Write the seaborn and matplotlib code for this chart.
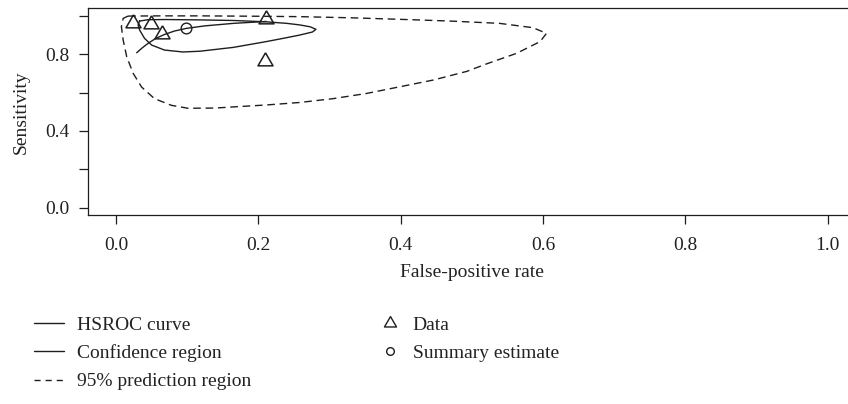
import matplotlib
matplotlib.use("Agg")
import matplotlib.pyplot as plt
import seaborn as sns
from matplotlib.lines import Line2D

# ---- data ----
study_fpr = [0.024, 0.049, 0.065, 0.211, 0.210]
study_sens = [0.962, 0.955, 0.905, 0.981, 0.762]

summary_fpr = [0.099]
summary_sens = [0.934]

hsroc_fpr = [0.029, 0.037, 0.045, 0.056, 0.068, 0.082, 0.099, 0.125, 0.165, 0.211]
hsroc_sens = [0.807, 0.833, 0.856, 0.882, 0.902, 0.920, 0.934, 0.947, 0.960, 0.970]

conf_fpr = [0.033, 0.045, 0.070, 0.118, 0.165, 0.211, 0.240, 0.258, 0.273, 0.281,
            0.276, 0.258, 0.235, 0.211, 0.165, 0.118, 0.094, 0.068, 0.050, 0.040,
            0.033, 0.031, 0.033]
conf_sens = [0.972, 0.979, 0.980, 0.978, 0.975, 0.968, 0.960, 0.952, 0.942, 0.929,
             0.915, 0.899, 0.882, 0.865, 0.835, 0.815, 0.811, 0.821, 0.847, 0.882,
             0.926, 0.952, 0.972]

pred_fpr = [0.017, 0.060, 0.120, 0.200, 0.258, 0.330, 0.399, 0.470, 0.539, 0.586,
            0.605, 0.596, 0.563, 0.520, 0.493, 0.446, 0.399, 0.352, 0.305, 0.258,
            0.211, 0.165, 0.139, 0.101, 0.078, 0.054, 0.036, 0.024, 0.015, 0.010,
            0.0075, 0.010, 0.017]
pred_sens = [0.998, 0.999, 0.999, 0.997, 0.995, 0.989, 0.981, 0.972, 0.960, 0.9375,
             0.908, 0.865, 0.804, 0.748, 0.710, 0.665, 0.630, 0.595, 0.568, 0.548,
             0.535, 0.525, 0.519, 0.518, 0.533, 0.568, 0.628, 0.700, 0.786, 0.873,
             0.943, 0.986, 0.998]

x_ticks = [0.0, 0.2, 0.4, 0.6, 0.8, 1.0]
x_ticklabels = ["0.0", "0.2", "0.4", "0.6", "0.8", "1.0"]
y_ticks = [0.0, 0.2, 0.4, 0.6, 0.8, 1.0]
y_ticklabels = ["0.0", "", "0.4", "", "0.8", ""]

legend_lines = ["HSROC curve", "Confidence region", "95% prediction region"]
legend_marks = ["Data", "Summary estimate"]

# ---- style ----
sns.set_theme(style="ticks")
plt.rcParams['font.family'] = ['Liberation Serif', 'DejaVu Serif']
FS = 14
plt.rcParams['font.size'] = FS
plt.rcParams['text.color'] = '#222222'
plt.rcParams['axes.labelcolor'] = '#222222'
plt.rcParams['xtick.color'] = '#222222'
plt.rcParams['ytick.color'] = '#222222'

INK = '#1e1e1e'
TRI = [(0, 1.0), (-0.866, -0.5), (0.866, -0.5), (0, 1.0)]

fig = plt.figure(figsize=(8.48, 4.04), dpi=100)
ax = fig.add_axes([0.1033, 0.4668, 0.9061, 0.5134])

sns.lineplot(x=pred_fpr, y=pred_sens, sort=False, estimator=None, ax=ax,
             color=INK, linewidth=1.0, linestyle=(0, (5.5, 3.4)))
sns.lineplot(x=conf_fpr, y=conf_sens, sort=False, estimator=None, ax=ax,
             color=INK, linewidth=1.0)
sns.lineplot(x=hsroc_fpr, y=hsroc_sens, sort=False, estimator=None, ax=ax,
             color=INK, linewidth=1.0)
sns.lineplot(x=study_fpr, y=study_sens, sort=False, estimator=None, ax=ax,
             linestyle='', marker=TRI, markersize=12.5, markerfacecolor='none',
             markeredgecolor=INK, markeredgewidth=1.1, zorder=4)
sns.lineplot(x=summary_fpr, y=summary_sens, sort=False, estimator=None, ax=ax,
             linestyle='', marker='o', markersize=7.7, markerfacecolor='none',
             markeredgecolor=INK, markeredgewidth=1.0, zorder=4)

ax.set_xlim(-0.04, 1.04)
ax.set_ylim(-0.04, 1.04)
ax.set_xticks(x_ticks)
ax.set_xticklabels(x_ticklabels)
ax.set_yticks(y_ticks)
ax.set_yticklabels(y_ticklabels)
ax.tick_params(direction='out', length=6.5, width=0.9, pad=6.5, labelsize=FS,
               color=INK)
ax.tick_params(axis='x', pad=9)
for sp in ax.spines.values():
    sp.set_visible(True)
    sp.set_linewidth(0.9)
    sp.set_color(INK)
ax.set_xlabel("False-positive rate", labelpad=7, fontsize=FS)
ax.set_ylabel("Sensitivity", labelpad=11, fontsize=FS)
ax.grid(False)

# ---- legends ----
h_lines = [Line2D([], [], color=INK, lw=1.0),
           Line2D([], [], color=INK, lw=1.0),
           Line2D([], [], color=INK, lw=1.0, linestyle=(0, (4.4, 3.6)))]
h_marks = [Line2D([], [], color=INK, linestyle='', marker=TRI, markersize=10,
                  markerfacecolor='none', markeredgewidth=1.0),
           Line2D([], [], color=INK, linestyle='', marker='o', markersize=5.5,
                  markerfacecolor='none', markeredgewidth=1.0)]

W, H = 848.0, 404.0
fig.legend(handles=h_lines, labels=legend_lines, loc='upper left',
           bbox_to_anchor=(34 / W, 1 - 316 / H), frameon=False,
           handlelength=1.55, handletextpad=0.67, labelspacing=0.55,
           borderpad=0, borderaxespad=0, fontsize=FS)
fig.legend(handles=h_marks, labels=legend_marks, loc='upper left',
           bbox_to_anchor=(380 / W, 1 - 316 / H), frameon=False,
           handlelength=1.0, handletextpad=0.69, labelspacing=0.55,
           borderpad=0, borderaxespad=0, fontsize=FS)

fig.savefig('out.png', dpi=100)
